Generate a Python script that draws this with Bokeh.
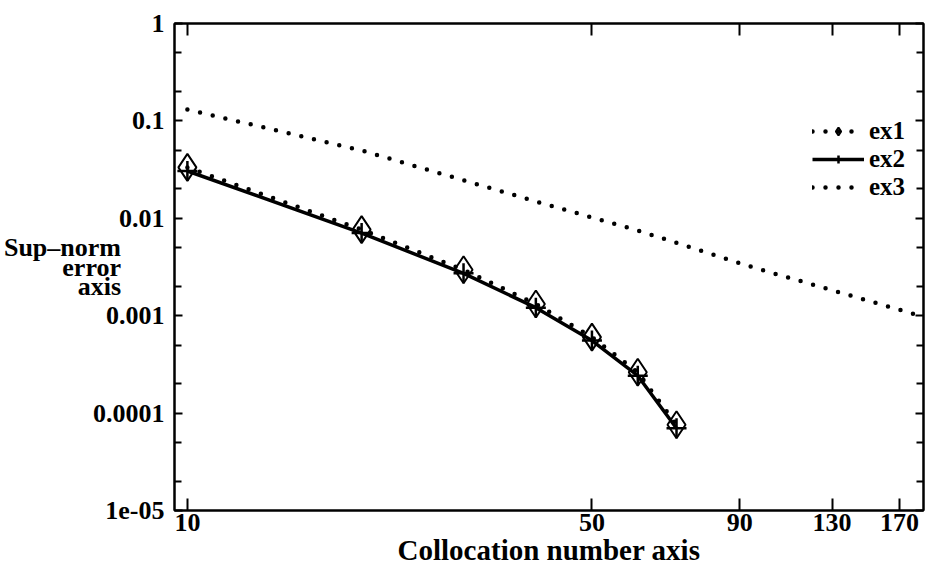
from bokeh.plotting import figure
from bokeh.models import (FixedTicker, LogAxis, Legend, LegendItem, Range1d,
                          ColumnDataSource)
from bokeh.embed import file_html
from bokeh.resources import INLINE

# ---- data ----
n_colloc = [10, 20, 30, 40, 50, 60, 70]
ex1 = [0.0333, 0.00765, 0.00296, 0.00132, 0.000603, 0.000263, 0.000076]
ex2 = [0.0306, 0.00705, 0.00272, 0.00121, 0.000555, 0.000242, 0.000070]
n_ex3 = [10, 20, 40, 60, 95, 190]
ex3 = [0.131, 0.0497, 0.0149, 0.0075, 0.00313, 0.00095]

x_ticks = [10, 50, 90, 130, 170]
x_tick_labels = ["10", "50", "90", "130", "170"]
y_ticks = [1e-5, 1e-4, 1e-3, 1e-2, 1e-1, 1]
y_tick_labels = ["1e-05", "0.0001", "0.001", "0.01", "0.1", "1"]
y_minor = [2e-5, 5e-5, 2e-4, 5e-4, 2e-3, 5e-3, 2e-2, 5e-2, 0.2, 0.5]

FONT = "Liberation Serif"

p = figure(x_axis_type="log", y_axis_type="log",
           x_range=Range1d(9.5, 187), y_range=Range1d(1e-5, 1),
           width=929, height=568,
           min_border_left=172, min_border_top=23, min_border_bottom=58,
           min_border_right=0,
           output_backend="svg", toolbar_location=None)
p.xgrid.visible = False
p.ygrid.visible = False
p.outline_line_color = "black"
p.outline_line_width = 2
p.background_fill_color = "white"
p.border_fill_color = "white"

xt = FixedTicker(ticks=x_ticks, minor_ticks=[])
yt = FixedTicker(ticks=y_ticks, minor_ticks=y_minor)

xa = p.xaxis[0]
xa.ticker = xt
xa.major_label_overrides = dict(zip(x_ticks, x_tick_labels))
xa.axis_label = "Collocation number axis"
ya = p.yaxis[0]
ya.ticker = yt
ya.major_label_overrides = dict(zip(y_ticks, y_tick_labels))
ya.axis_label = "Sup\u2013norm\nerror\naxis"
ya.axis_label_orientation = "horizontal"
ya.axis_label_text_line_height = 0.67
ya.axis_label_standoff = -31

for ax in (xa, ya):
    ax.axis_line_width = 2
    ax.major_tick_out = 0
    ax.minor_tick_out = 0
    ax.major_tick_line_width = 2
    ax.minor_tick_line_width = 2
    ax.major_label_text_font = FONT
    ax.major_label_text_font_style = "bold"
    ax.major_label_text_font_size = "26px"
    ax.major_label_text_color = "black"
    ax.axis_label_text_font = FONT
    ax.axis_label_text_font_style = "bold"
    ax.axis_label_text_color = "black"
xa.major_tick_in = 12
ya.major_tick_in = 8
ya.minor_tick_in = 7
xa.major_label_standoff = 3
ya.major_label_standoff = 10
xa.axis_label_text_font_size = "29px"
ya.axis_label_text_font_size = "26px"
xa.axis_label_standoff = 0

# mirror axes (ticks only; blank labels)
top = LogAxis(ticker=FixedTicker(ticks=x_ticks, minor_ticks=[]),
              major_label_overrides={t: " " for t in x_ticks})
p.add_layout(top, "above")
top.major_label_text_color = "white"
top.major_label_text_font_size = "10px"
top.major_tick_in = 12
top.major_tick_out = 0
top.minor_tick_out = 0
top.major_tick_line_color = "black"
top.axis_line_width = 2
top.major_tick_line_width = 2
top.major_label_standoff = 0

right = LogAxis(ticker=FixedTicker(ticks=y_ticks, minor_ticks=y_minor),
                major_label_overrides={t: " " for t in y_ticks})
p.add_layout(right, "right")
right.major_label_text_color = "white"
right.major_label_text_font_size = "10px"
right.major_tick_in = 8
right.minor_tick_in = 7
right.major_tick_out = 0
right.minor_tick_out = 0
right.major_tick_line_color = "black"
right.minor_tick_line_color = "black"
right.axis_line_width = 2
right.major_tick_line_width = 2
right.minor_tick_line_width = 2
right.major_label_standoff = 0

s12 = ColumnDataSource(dict(n=n_colloc, ex1=ex1, ex2=ex2))
s3 = ColumnDataSource(dict(n=n_ex3, ex3=ex3))

l3 = p.line("n", "ex3", source=s3, line_color="black", line_width=4.5,
            line_dash="0 13", line_cap="round")
l2 = p.line("n", "ex2", source=s12, line_color="black", line_width=3.5)
l1 = p.line("n", "ex1", source=s12, line_color="black", line_width=4.5,
            line_dash="0 13", line_cap="round")
m1 = p.scatter("n", "ex1", source=s12, marker="diamond", size=27,
               fill_color=None, line_color="black", line_width=2)
m2 = p.scatter("n", "ex2", source=s12, marker="cross", size=20,
               line_color="black", line_width=2.5)

legend = Legend(items=[LegendItem(label="ex1", renderers=[l1, m1]),
                       LegendItem(label="ex2", renderers=[l2, m2]),
                       LegendItem(label="ex3", renderers=[l3])],
                location=(638, 309), border_line_color=None,
                background_fill_alpha=0, label_text_font=FONT,
                label_text_font_style="bold", label_text_font_size="25px",
                label_text_color="black", label_text_line_height=0.8,
                glyph_width=52, glyph_height=20, label_height=20,
                spacing=-4, padding=2, margin=0)
p.add_layout(legend)

open("out.html", "w").write(file_html(p, INLINE))
